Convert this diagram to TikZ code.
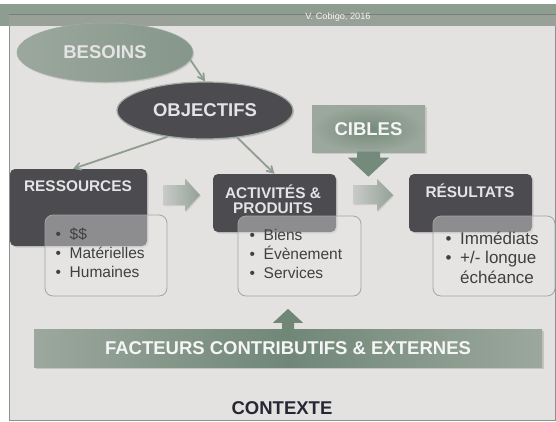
\documentclass[tikz,border=0pt]{standalone}
\usepackage{fontspec}
\setmainfont{Liberation Sans}
\usetikzlibrary{arrows,shapes.geometric,shadows,calc}
\definecolor{ctx_white}{RGB}{245, 245, 245}
\definecolor{ctx_panel}{RGB}{227, 226, 224}
\definecolor{ctx_frame}{RGB}{141, 145, 141}
\definecolor{ctx_band}{RGB}{141, 157, 144}
\definecolor{ctx_band_lo}{RGB}{152, 160, 151}
\definecolor{ctx_band_ln}{RGB}{118, 128, 119}
\definecolor{ctx_sage}{RGB}{134, 150, 138}
\definecolor{ctx_sage_lt}{RGB}{156, 168, 157}
\definecolor{ctx_sage_dk}{RGB}{116, 138, 122}
\definecolor{ctx_sage_up}{RGB}{112, 135, 119}
\definecolor{ctx_dark}{RGB}{76, 75, 80}
\definecolor{ctx_rim}{RGB}{160, 172, 161}
\definecolor{ctx_line}{RGB}{143, 157, 144}
\definecolor{ctx_text}{RGB}{64, 64, 64}
\definecolor{ctx_light}{RGB}{228, 228, 228}
\definecolor{ctx_veil}{RGB}{232, 232, 232}
\definecolor{ctx_list}{RGB}{158, 168, 159}
\definecolor{ctx_ink}{RGB}{38, 38, 52}
\definecolor{ctx_arrow_lt}{RGB}{200, 203, 200}
\definecolor{ctx_arrow_dk}{RGB}{148, 161, 151}
\tikzstyle{need}=[ellipse,left color=ctx_sage_lt,right color=ctx_sage,draw=ctx_rim,
  line width=0.6 pt,minimum width=176pt,minimum height=59pt,text=ctx_light,
  font=\fontsize{18.5}{20}\selectfont\bfseries,
  drop shadow={shadow xshift=1pt,shadow yshift=-1.5pt,opacity=0.25}]
\tikzstyle{goal}=[ellipse,fill=ctx_dark,draw=ctx_rim,line width=1.2 pt,
  minimum width=176pt,minimum height=57pt,text=ctx_light,
  font=\fontsize{18.5}{20}\selectfont\bfseries,
  drop shadow={shadow xshift=1pt,shadow yshift=-1.5pt,opacity=0.25}]
\tikzstyle{stage}=[rectangle,rounded corners=5pt,fill=ctx_dark,inner sep=0pt,
  drop shadow={shadow xshift=1.5pt,shadow yshift=-1.5pt,opacity=0.25}]
\tikzstyle{items}=[rectangle,rounded corners=8pt,fill=ctx_veil,fill opacity=0.42,
  draw=ctx_list,line width=0.8 pt,inner sep=0pt]
\tikzstyle{stagetext}=[font=\fontsize{15.4}{15}\selectfont\bfseries,text=ctx_light,
  align=center,inner sep=0pt]
\tikzstyle{listtext}=[font=\fontsize{15.5}{18.7}\selectfont,text=ctx_text,
  align=left,anchor=west,inner sep=0pt]
\tikzstyle{target}=[rectangle,inner color=ctx_sage_dk,outer color=ctx_sage_lt,
  minimum width=113pt,minimum height=47pt,text=ctx_white,
  font=\fontsize{18.5}{20}\selectfont\bfseries,
  drop shadow={shadow xshift=1.5pt,shadow yshift=-1.5pt,opacity=0.25}]
\tikzstyle{factor}=[rectangle,left color=ctx_sage_lt,right color=ctx_sage_lt,
  middle color=ctx_sage_up,minimum width=508pt,minimum height=38pt,text=ctx_white,
  font=\fontsize{18.5}{20}\selectfont\bfseries,
  drop shadow={shadow xshift=1.5pt,shadow yshift=-1.5pt,opacity=0.3}]
\tikzstyle{flow}=[line width=1.8 pt,draw=ctx_line,-angle 60]
\tikzstyle{block}=[left color=ctx_arrow_lt,right color=ctx_arrow_dk,
  drop shadow={shadow xshift=1pt,shadow yshift=-1pt,opacity=0.2}]
\tikzstyle{none}=[]
\newcommand{\lbul}[2][14pt]{\makebox[#1][l]{\textbullet}#2}

\begin{document}
\begin{tikzpicture}[x=1pt, y=-1pt]
            \fill [white] (0, 0) rectangle (556, 421);
            \useasboundingbox (0, 0) rectangle (556, 421);
            \fill [ctx_panel] (9, 14) rectangle (556, 420);
            \draw [ctx_frame, line width=1pt] (9, 14) rectangle (555.5, 420);
            \fill [ctx_band] (0, 4) rectangle (556, 26);
            \fill [ctx_band_lo] (9, 14) rectangle (556, 26);
            \draw [ctx_band_ln, line width=0.8pt] (9, 14) -- (556, 14);
            \node [style=none, text=ctx_white, font=\fontsize{9.2}{10}\selectfont] (17) at (338, 17) {V. Cobigo, 2016};
            \node [style=stage, minimum width=137pt, minimum height=77pt] (3) at (78.5, 207.5) {};
            \node [style=stage, minimum width=123pt, minimum height=58pt] (4) at (274.5, 203) {};
            \node [style=stage, minimum width=123pt, minimum height=58pt] (5) at (470.5, 203) {};
            \node [style=items, minimum width=122pt, minimum height=81pt] (6) at (106, 255.5) {};
            \node [style=items, minimum width=123pt, minimum height=80pt] (7) at (299.5, 256) {};
            \node [style=items, minimum width=122pt, minimum height=80pt] (8) at (494, 256) {};
            \node [style=stagetext] (9) at (78, 186) {RESSOURCES};
            \node [style=stagetext] (10) at (273, 199.5) {ACTIVITÉS \&\\PRODUITS};
            \node [style=stagetext] (11) at (470, 191) {RÉSULTATS};
            \node [style=listtext] (12) at (55.5, 253) {\lbul{\$\$}\\\lbul{Matérielles}\\\lbul{Humaines}};
            \node [style=listtext] (13) at (249.5, 254) {\lbul{Biens}\\\lbul{Évènement}\\\lbul{Services}};
            \node [style=listtext, font=\fontsize{17}{19.5}\selectfont] (14) at (445.5, 257.5) {\lbul[14.5pt]{Immédiats}\\\lbul[14.5pt]{+/- longue}\\\hspace*{14.5pt}échéance};
            \node [style=need] (0) at (105, 52.5) {BESOINS};
            \node [style=goal] (1) at (205, 110.5) {OBJECTIFS};
            \node [style=target] (2) at (368.5, 129) {CIBLES};
            \fill [ctx_sage_dk, shift={(2.south)}] (-11.5, -1) -- (-11.5, 5) -- (-20.5, 5) -- (0, 24) -- (20.5, 5) -- (11.5, 5) -- (11.5, -1) -- cycle;
            \shade [style=block] (163, 185) -- (185, 185) -- (185, 178.5) -- (200, 195) -- (185, 211.5) -- (185, 205) -- (163, 205) -- cycle;
            \shade [style=block] (353, 185) -- (377, 185) -- (377, 179) -- (393, 195) -- (377, 211) -- (377, 204) -- (353, 204) -- cycle;
            \node [style=factor] (15) at (288, 348) {FACTEURS CONTRIBUTIFS \& EXTERNES};
            \fill [ctx_sage_up, shift={(15.north)}] (-6, 1) -- (-6, -6) -- (-15, -6) -- (0, -20) -- (15, -6) -- (6, -6) -- (6, 1) -- cycle;
            \node [style=none, text=ctx_ink, font=\fontsize{18.5}{20}\selectfont\bfseries] (16) at (282, 408) {CONTEXTE};
            \draw [style=flow] (0.355) to (1.north);
            \draw [style=flow] (1.215) to (3.98);
            \draw [style=flow] (1.320) to (4.north);
\end{tikzpicture}
\end{document}
